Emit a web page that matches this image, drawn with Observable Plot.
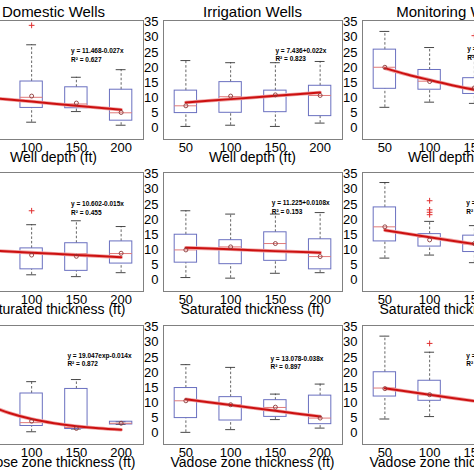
<!DOCTYPE html>
<html>
<head>
<meta charset="utf-8">
<script src="https://cdn.jsdelivr.net/npm/d3@7"></script>
<script src="https://cdn.jsdelivr.net/npm/@observablehq/plot@0.6"></script>
<style>
  html, body { margin: 0; padding: 0; background: #fff; overflow: hidden; }
  #wrap { position: relative; width: 474px; height: 474px; overflow: hidden; background: #fff; }
  #wrap > svg, #wrap > figure { position: absolute; margin: 0; }
</style>
</head>
<body>
<div id="wrap"></div>
<script>
// ---- categories / ticks / labels ----
const xTicks = [50, 100, 150, 200];
const yTicks = [0, 5, 10, 15, 20, 25, 30, 35];
const columnTitles = ["Domestic Wells", "Irrigation Wells", "Monitoring Wells"];
const rowLabels = ["Well depth (ft)", "Saturated thickness (ft)", "Vadose zone thickness (ft)"];

// box rows: [x, lowerWhisker, q1, median, q3, upperWhisker, mean]
const domDepthBoxes = [[100, 2.0, 6.7, 10.2, 15.4, 27.5, 10.6], [150, 5.5, 6.6, 8.0, 13.5, 16.8, 8.3], [200, 1.0, 2.5, 5.1, 12.7, 19.3, 5.2]];
const irrDepthBoxes = [[50, 0.6, 5.0, 7.4, 12.4, 22.3, 7.4], [100, 1.0, 5.1, 10.4, 15.2, 21.6, 10.6], [150, 0.6, 5.3, 10.6, 12.4, 21.6, 11.0], [200, 1.7, 4.0, 10.8, 14.0, 22.0, 10.8]];
const monDepthBoxes = [[50, 6.9, 13.0, 20.1, 25.9, 31.9, 20.1], [100, 8.6, 12.7, 15.5, 19.2, 26.6, 15.4], [150, 8.2, 11.3, 13.5, 16.5, 24.0, 13.3]];
const domSatBoxes = [[100, 1.8, 3.6, 8.8, 10.5, 18.3, 8.3], [150, 1.2, 3.1, 8.8, 12.2, 19.6, 7.9], [200, 2.5, 5.5, 8.8, 12.8, 17.7, 8.9]];
const irrSatBoxes = [[50, 0.9, 5.8, 10.0, 15.0, 22.9, 10.0], [100, 0.7, 5.3, 11.0, 13.2, 21.8, 11.0], [150, 2.3, 6.4, 12.1, 15.8, 21.8, 12.1], [200, 2.5, 3.6, 7.8, 13.5, 22.3, 7.8]];
const monSatBoxes = [[50, 7.3, 12.8, 17.6, 24.0, 32.2, 17.6], [100, 8.3, 11.1, 14.1, 15.2, 19.4, 13.3], [150, 5.8, 9.3, 12.0, 14.7, 18.0, 12.1]];
const domVadBoxes = [[100, 0.5, 2.4, 3.5, 13.1, 17.0, 4.0], [150, 1.4, 1.4, 1.9, 14.6, 17.7, 1.6], [200, 2.9, 2.9, 3.3, 3.8, 3.8, 3.3]];
const irrVadBoxes = [[50, 0.3, 5.0, 10.7, 14.9, 22.6, 10.7], [100, 1.2, 4.2, 9.4, 11.9, 21.7, 9.4], [150, 4.5, 5.4, 8.5, 10.9, 12.9, 8.6], [200, 1.7, 3.0, 5.0, 12.4, 16.2, 5.0]];
const monVadBoxes = [[50, 4.7, 12.1, 14.9, 20.1, 32.0, 14.7], [100, 5.5, 10.7, 12.7, 17.3, 26.7, 12.7]];

// outliers: [x, value]
const domDepthOut = [[100, 33.9]];
const monDepthOut = [[150, 30.5]];
const domSatOut = [[100, 22.9]];
const monSatOut = [[100, 26.2], [100, 23.2], [100, 22.4], [100, 21.6]];
const monVadOut = [[100, 29.6]];

// fitted trend lines: [x, value]
const domDepthFit = [[50, 10.1], [100, 8.8], [150, 7.4], [200, 6.1]];
const irrDepthFit = [[50, 8.5], [100, 9.6], [150, 10.7], [200, 11.8]];
const monDepthFit = [[50, 19.8], [75, 17.7], [100, 15.9], [125, 14.2], [150, 12.7], [175, 11.4], [200, 10.2]];
const domSatFit = [[50, 9.85], [100, 9.1], [150, 8.35], [200, 7.6]];
const irrSatFit = [[50, 10.7], [100, 10.2], [150, 9.6], [200, 9.1]];
const monSatFit = [[50, 16.5], [100, 14.2], [150, 11.9], [200, 9.6]];
const domVadFit = [[50, 9.45], [75, 6.67], [100, 4.69], [125, 3.31], [150, 2.33], [175, 1.64], [200, 1.16]];
const irrVadFit = [[50, 11.2], [100, 9.3], [150, 7.4], [200, 5.5]];
const monVadFit = [[50, 14.8], [100, 12.7], [150, 10.6], [200, 8.5]];

// equation annotations
const domDepthEq = ["y = 11.468-0.027x", "R² = 0.627"];
const irrDepthEq = ["y = 7.436+0.022x", "R² = 0.823"];
const monDepthEq = ["y = 24.6exp-0.004x", "R² = 0.98"];
const domSatEq = ["y = 10.602-0.015x", "R² = 0.455"];
const irrSatEq = ["y = 11.225+0.0108x", "R² = 0.153"];
const monSatEq = ["y = 18.8-0.046x", "R² = 0.95"];
const domVadEq = ["y = 19.047exp-0.014x", "R² = 0.872"];
const irrVadEq = ["y = 13.078-0.038x", "R² = 0.897"];
const monVadEq = ["y = 16.9-0.042x", "R² = 0.93"];

// ---- layout ----
const colLeft = [-36, 163, 362];
const rowTop = [20, 172, 325];
const frameW = 179, frameH = 119;
const mL = 24, mR = 2, mT = 2, mB = 20;
const eqAnchor = [[[144, 26.8], [150, 27], [142, 27.5]], [[144, 26.5], [146, 26.8], [141, 26.8]], [[140, 27], [144.5, 26], [141, 27]]];

const panels = [
  [domDepthBoxes, domDepthOut, domDepthFit, domDepthEq],
  [irrDepthBoxes, [], irrDepthFit, irrDepthEq],
  [monDepthBoxes, monDepthOut, monDepthFit, monDepthEq],
  [domSatBoxes, domSatOut, domSatFit, domSatEq],
  [irrSatBoxes, [], irrSatFit, irrSatEq],
  [monSatBoxes, monSatOut, monSatFit, monSatEq],
  [domVadBoxes, [], domVadFit, domVadEq],
  [irrVadBoxes, [], irrVadFit, irrVadEq],
  [monVadBoxes, monVadOut, monVadFit, monVadEq]
];

const FONT = "'Liberation Sans', Arial, Helvetica, sans-serif";
const wrap = document.getElementById("wrap");

panels.forEach(([boxRows, outRows, fitRows, eqText], i) => {
  const row = Math.floor(i / 3), col = i % 3;
  const boxes = boxRows.map(([x, lo, q1, med, q3, hi, mean]) => ({x, lo, q1, med, q3, hi, mean}));
  const hw = 12.5, cw = 5.5;
  const [ex, ey] = eqAnchor[row][col];
  const chart = Plot.plot({
    width: mL + frameW + mR,
    height: mT + frameH + mB,
    marginLeft: mL, marginRight: mR, marginTop: mT, marginBottom: mB,
    style: {fontFamily: FONT, background: "transparent", overflow: "visible", color: "#000"},
    x: {domain: [25, 225]},
    y: {domain: [-3.7, 35.5]},
    marks: [
      Plot.ruleX(boxes, {x: "x", y1: "q3", y2: "hi", stroke: "#555", strokeWidth: 0.9, strokeDasharray: "2.5,2"}),
      Plot.ruleX(boxes, {x: "x", y1: "lo", y2: "q1", stroke: "#555", strokeWidth: 0.9, strokeDasharray: "2.5,2"}),
      Plot.ruleY(boxes, {y: "hi", x1: d => d.x - cw, x2: d => d.x + cw, stroke: "#333", strokeWidth: 0.9}),
      Plot.ruleY(boxes, {y: "lo", x1: d => d.x - cw, x2: d => d.x + cw, stroke: "#333", strokeWidth: 0.9}),
      Plot.rect(boxes, {x1: d => d.x - hw, x2: d => d.x + hw, y1: "q1", y2: "q3", fill: "none", stroke: "#6a70c0", strokeWidth: 1}),
      Plot.ruleY(boxes, {y: "med", x1: d => d.x - hw, x2: d => d.x + hw, stroke: "#e07a7a", strokeWidth: 1}),
      Plot.line(fitRows, {x: d => d[0], y: d => d[1], stroke: "#f0a0a0", strokeWidth: 3.6, curve: "monotone-x"}),
      Plot.line(fitRows, {x: d => d[0], y: d => d[1], stroke: "#cc1010", strokeWidth: 2, curve: "monotone-x"}),
      Plot.dot(boxes, {x: "x", y: "mean", r: 2, stroke: "#8a3a3a", strokeWidth: 0.9, fill: "none"}),
      Plot.dot(outRows, {x: d => d[0], y: d => d[1], symbol: "plus", r: 2, stroke: "#e03030", strokeWidth: 1}),
      Plot.text([eqText.join("\n")], {x: ex, y: ey, text: d => d, textAnchor: "start", lineAnchor: "top", lineHeight: 1.35, fontSize: 6.5, fontWeight: "bold", fill: "#000"}),
      Plot.frame({stroke: "#808080", strokeWidth: 1}),
      Plot.axisX({ticks: xTicks, tickSize: 0, tickPadding: 3, fontSize: 13, label: null}),
      Plot.axisY({ticks: yTicks, tickSize: 0, tickPadding: 5, fontSize: 13, label: null})
    ]
  });
  chart.style.left = (colLeft[col] - mL) + "px";
  chart.style.top = (rowTop[row] - mT) + "px";
  wrap.appendChild(chart);
});

// titles and axis labels as an overlay
const overlay = d3.select(wrap).append("svg")
  .attr("width", 474).attr("height", 474)
  .style("left", "0px").style("top", "0px").style("pointer-events", "none")
  .style("font-family", FONT);
columnTitles.forEach((t, c) => {
  overlay.append("text").attr("x", colLeft[c] + frameW / 2).attr("y", 17)
    .attr("text-anchor", "middle").attr("font-size", 15).attr("fill", "#000").text(t);
});
rowLabels.forEach((t, r) => {
  colLeft.forEach((l) => {
    overlay.append("text").attr("x", l + frameW / 2).attr("y", rowTop[r] + frameH + 23)
      .attr("text-anchor", "middle").attr("font-size", 14).attr("fill", "#000").text(t);
  });
});
</script>
</body>
</html>
